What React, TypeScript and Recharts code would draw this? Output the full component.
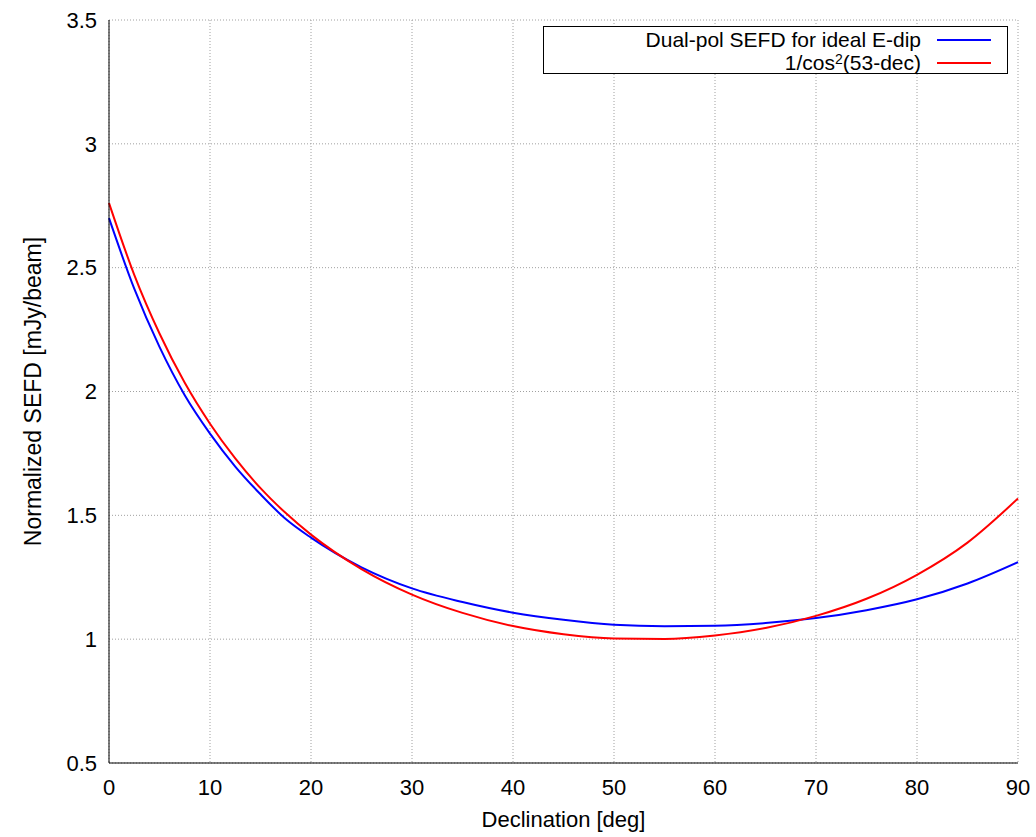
import { LineChart, Line, XAxis, YAxis, CartesianGrid } from 'recharts';

const FONT = '"Liberation Sans", Arial, Helvetica, sans-serif';

// declination in degrees
const declination = [0, 2.5, 5, 7.5, 10, 12.5, 15, 17.5, 20, 25, 30, 35, 40, 45, 50, 55, 60, 65, 70, 75, 80, 85, 90];
// dual-pol SEFD for ideal E-dipole (normalized)
const sefdDipole = [2.70, 2.415, 2.18, 1.985, 1.83, 1.697, 1.585, 1.485, 1.41, 1.29, 1.205, 1.15, 1.107, 1.078, 1.058, 1.052, 1.054, 1.065, 1.085, 1.117, 1.161, 1.225, 1.311];
// 1/cos^2(53-dec)
const cosModel = [2.761, 2.471, 2.234, 2.035, 1.87, 1.73, 1.61, 1.509, 1.422, 1.283, 1.18, 1.106, 1.053, 1.02, 1.003, 1.001, 1.015, 1.045, 1.094, 1.163, 1.26, 1.39, 1.568];

const xTicks = [0, 10, 20, 30, 40, 50, 60, 70, 80, 90];
const yTicks = [0.5, 1, 1.5, 2, 2.5, 3, 3.5];

const data = declination.map((d, i) => ({
  dec: d,
  dipole: sefdDipole[i],
  cos: cosModel[i],
}));

const tickStyle = { fill: '#000', fontSize: 22, fontFamily: FONT };

export default function App() {
  return (
    <div style={{ position: 'absolute', left: 0, top: 0, width: 1036, height: 837, background: '#fff' }}>
      <LineChart
        width={1036}
        height={837}
        data={data}
        margin={{ top: 20, right: 18, bottom: 4, left: 10 }}
      >
        <CartesianGrid stroke="#a0a0a0" strokeDasharray="1 2" />
        <XAxis
          dataKey="dec"
          type="number"
          domain={[0, 90]}
          ticks={xTicks}
          tick={tickStyle}
          tickLine={false}
          tickMargin={10}
          height={70}
          axisLine={{ stroke: '#000' }}
          label={{ value: 'Declination [deg]', position: 'insideBottom', offset: 6, fill: '#000', fontSize: 22, fontFamily: FONT }}
        />
        <XAxis xAxisId="top" orientation="top" dataKey="dec" type="number" domain={[0, 90]} height={0} tick={false} tickLine={false} axisLine={{ stroke: '#000' }} />
        <YAxis
          type="number"
          domain={[0.5, 3.5]}
          ticks={yTicks}
          tick={tickStyle}
          tickLine={false}
          tickMargin={6}
          width={99}
          axisLine={{ stroke: '#000' }}
          label={{
            value: 'Normalized SEFD [mJy/beam]',
            angle: -90,
            position: 'insideLeft',
            offset: 23,
            fill: '#000',
            fontSize: 23,
            fontFamily: FONT,
            style: { textAnchor: 'middle' },
          }}
        />
        <YAxis yAxisId="right" orientation="right" domain={[0.5, 3.5]} width={0} tick={false} tickLine={false} axisLine={{ stroke: '#000' }} />
        <Line type="monotone" dataKey="dipole" stroke="#0000ff" strokeWidth={2} dot={false} isAnimationActive={false} />
        <Line type="monotone" dataKey="cos" stroke="#ff0000" strokeWidth={2} dot={false} isAnimationActive={false} />
      </LineChart>
      <div
        style={{
          position: 'absolute',
          left: 543,
          top: 26,
          width: 463,
          height: 46,
          border: '1px solid #000',
          background: '#fff',
          fontFamily: FONT,
          fontSize: 21,
          color: '#000',
        }}
      >
        {[
          { label: <>Dual-pol SEFD for ideal E-dip</>, color: '#0000ff' },
          {
            label: (
              <>
                1/cos<span style={{ fontSize: 14, lineHeight: '14px', verticalAlign: 'top' }}>2</span>(53-dec)
              </>
            ),
            color: '#ff0000',
          },
        ].map((row, i) => (
          <div key={i} style={{ position: 'absolute', right: 0, top: 2 + i * 23, height: 21, lineHeight: '21px', display: 'flex', alignItems: 'center' }}>
            <span style={{ lineHeight: '21px' }}>{row.label}</span>
            <span style={{ display: 'inline-block', width: 54, height: 2, background: row.color, marginLeft: 16, marginRight: 16 }} />
          </div>
        ))}
      </div>
    </div>
  );
}
